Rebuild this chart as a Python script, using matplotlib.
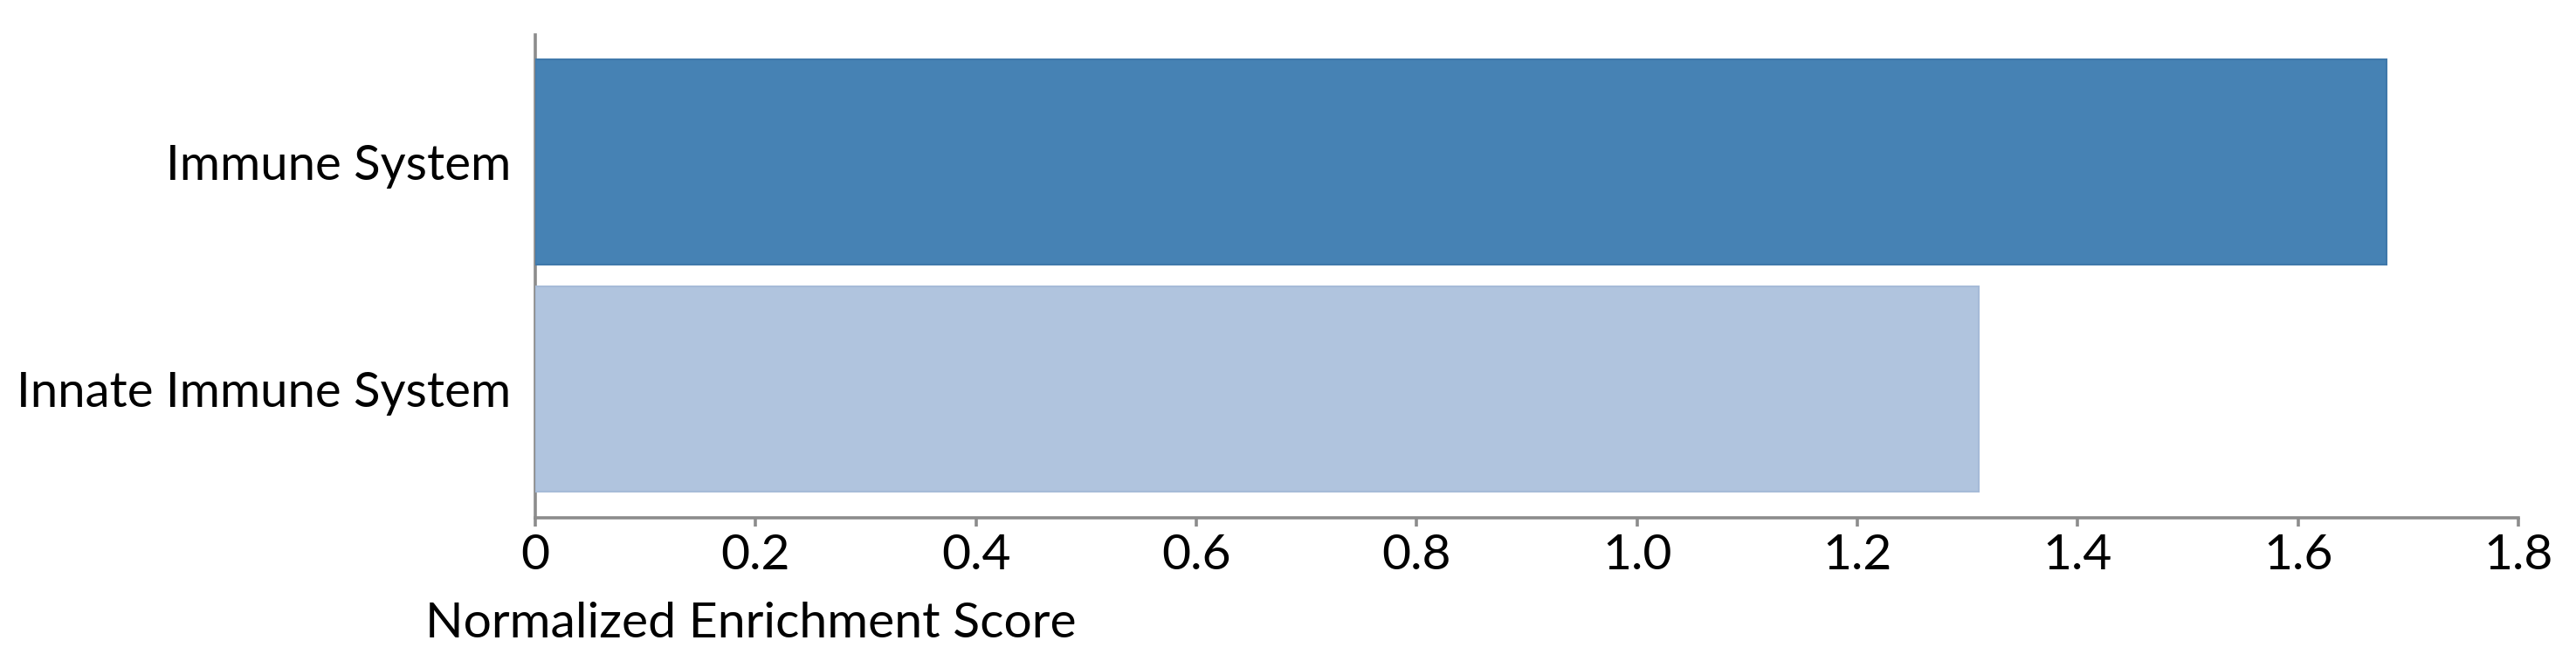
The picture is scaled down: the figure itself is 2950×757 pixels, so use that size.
import matplotlib
matplotlib.use("Agg")
import matplotlib.pyplot as plt

categories = ["Innate Immune System", "Immune System"]
nes_values = [1.31, 1.68]
bar_colors = ["#B0C4DE", "#4682B4"]
edge_colors = ["#A6BBD8", "#3F78AA"]
xticks = [0, 0.2, 0.4, 0.6, 0.8, 1.0, 1.2, 1.4, 1.6, 1.8]
xtick_labels = ["0", "0.2", "0.4", "0.6", "0.8", "1.0", "1.2", "1.4", "1.6", "1.8"]
xlabel = "Normalized Enrichment Score"

plt.rcParams['font.family'] = ['Lato', 'DejaVu Sans']

W, H = 2950, 757
dpi = 100
fig = plt.figure(figsize=(W / dpi, H / dpi), dpi=dpi)
ax = fig.add_axes([613 / W, 1 - 593 / H, (2884 - 613) / W, (593 - 40) / H])

ypos = list(range(len(categories)))
ax.barh(ypos, nes_values, height=0.904, color=bar_colors, edgecolor=edge_colors,
        linewidth=1.5, zorder=3)

ax.set_xlim(0, 1.8)
ax.set_ylim(-0.567, 1.56)
ax.set_xticks(xticks)
ax.set_xticklabels(xtick_labels)
ax.set_yticks(ypos)
ax.set_yticklabels(categories)

for s in ["top", "right"]:
    ax.spines[s].set_visible(False)
axis_gray = "#8C8C8C"
for s in ["left", "bottom"]:
    ax.spines[s].set_color(axis_gray)
    ax.spines[s].set_linewidth(2.6)
    ax.spines[s].set_zorder(2)

ax.tick_params(axis="x", direction="out", length=7, width=2.6, color=axis_gray,
               labelsize=41, pad=6, labelcolor="black")
ax.tick_params(axis="y", length=0, labelsize=40.5, pad=20, labelcolor="black")
for lbl in ax.get_yticklabels():
    lbl.set_y(lbl.get_position()[1])

fig.text(860 / W, 1 - 730 / H, xlabel, ha="center", va="baseline", fontsize=41,
         color="black")

fig.savefig("out.png", dpi=dpi, facecolor="white")
